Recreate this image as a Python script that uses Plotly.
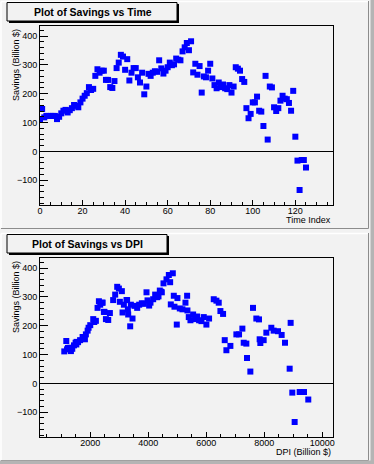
import plotly.graph_objects as go

W, H = 374, 464

time_index = list(range(126))
savings = [111, 147, 118, 123, 123, 123, 123, 123, 112, 120,
           132, 141, 144, 135, 143, 150, 161, 158, 153, 170,
           183, 193, 202, 223, 213, 217, 262, 285, 273, 280,
           280, 248, 248, 223, 220, 244, 289, 308, 335, 329,
           283, 320, 246, 273, 289, 289, 257, 239, 273, 198,
           225, 269, 262, 273, 278, 276, 316, 288, 270, 280,
           292, 308, 299, 302, 322, 318, 316, 347, 361, 376,
           351, 382, 274, 304, 266, 296, 204, 260, 257, 280,
           304, 253, 230, 219, 239, 223, 232, 219, 216, 230,
           204, 225, 292, 287, 280, 251, 241, 150, 115, 130,
           170, 170, 190, 141, 138, 88, 262, 41, 225, 222,
           153, 140, 150, 176, 193, 183, 181, 168, 141, 210,
           51, -32, -134, -30, -30, -56]
dpi = [1105, 1174, 1200, 1230, 1260, 1290, 1310, 1345, 1334, 1380,
       1440, 1495, 1530, 1520, 1580, 1650, 1736, 1760, 1816, 1850,
       1910, 1943, 2000, 2103, 2138, 2195, 2252, 2298, 2344, 2413,
       2425, 2470, 2490, 2540, 2620, 2677, 2790, 2860, 2929, 2987,
       3021, 3090, 3113, 3159, 3250, 3270, 3297, 3308, 3400, 3377,
       3457, 3526, 3618, 3687, 3779, 3847, 3939, 3974, 4031, 4077,
       4169, 4238, 4307, 4353, 4398, 4440, 4467, 4525, 4628, 4709,
       4754, 4846, 4777, 4880, 4903, 5006, 4983, 5087, 5178, 5282,
       5339, 5350, 5396, 5454, 5546, 5615, 5684, 5752, 5833, 5913,
       6004, 6096, 6257, 6349, 6429, 6487, 6579, 6636, 6693, 6831,
       7037, 7129, 7244, 7290, 7381, 7404, 7611, 7519, 7725, 7817,
       7840, 7863, 7978, 8070, 8242, 8323, 8472, 8598, 8713, 8908,
       8874, 8965, 9046, 9219, 9368, 9516]

titles = ["Plot of Savings vs Time", "Plot of Savings vs DPI"]
x_titles = ["Time Index", "DPI (Billion $)"]
y_title = "Savings (Billion $)"

FONT = "Liberation Sans, Arial, Helvetica, sans-serif"
BG = "#f2f2f2"
BLUE = "#0000ff"


def px(x):
    return x / W


def py(y):
    return 1 - y / H


fig = go.Figure()
marker = dict(symbol="square", size=6, color=BLUE, line=dict(width=0))
fig.add_trace(go.Scatter(x=time_index, y=savings, mode="markers", marker=marker,
                         xaxis="x", yaxis="y", showlegend=False))
fig.add_trace(go.Scatter(x=dpi, y=savings, mode="markers", marker=marker,
                         xaxis="x2", yaxis="y2", showlegend=False))

pads = [0, 232]
title_box_r = [177, 167]
frame_l, frame_r = 40, 333
frame_t, frame_b = 26, 205

common_ax = dict(showgrid=False, showline=True, mirror=True, linecolor="black",
                 linewidth=1, ticks="inside", tickcolor="black", automargin=False,
                 tickfont=dict(family=FONT, size=9, color="black"), fixedrange=True)

yax = dict(common_ax, range=[-186, 435], dtick=100, tick0=0, ticklen=8,
           zeroline=True, zerolinecolor="black", zerolinewidth=1,
           minor=dict(dtick=20, ticklen=4, ticks="inside", tickcolor="black"))

layout = dict(
    width=W, height=H, margin=dict(l=0, r=0, t=0, b=0, autoexpand=False),
    paper_bgcolor=BG, plot_bgcolor=BG, showlegend=False,
    xaxis=dict(common_ax, domain=[px(frame_l), px(frame_r)], range=[0, 137.7],
               dtick=20, tick0=0, ticklen=5.5, zeroline=False, anchor="y",
               ticklabelstandoff=-3,
               minor=dict(dtick=5, ticklen=3, ticks="inside", tickcolor="black")),
    yaxis=dict(yax, domain=[py(frame_b), py(frame_t)], anchor="x"),
    xaxis2=dict(common_ax, domain=[px(frame_l), px(frame_r)], range=[268, 10368],
                dtick=2000, tick0=0, ticklen=5.5, zeroline=False, anchor="y2",
                tickformat="d", ticklabelstandoff=-3,
                minor=dict(dtick=500, ticklen=3, ticks="inside", tickcolor="black")),
    yaxis2=dict(yax, domain=[py(frame_b + 232), py(frame_t + 232)], anchor="x2"),
)
fig.update_layout(**layout)

shapes = []
annotations = []
for i, oy in enumerate(pads):
    br = title_box_r[i]
    # pad bevel borders
    shapes.append(dict(type="line", xref="paper", yref="paper",
                       x0=px(1), x1=px(368), y0=py(oy + 1.5), y1=py(oy + 1.5),
                       line=dict(color="white", width=1.5)))
    shapes.append(dict(type="line", xref="paper", yref="paper",
                       x0=px(1), x1=px(1), y0=py(oy + 1.5), y1=py(oy + 228),
                       line=dict(color="white", width=1.5)))
    shapes.append(dict(type="line", xref="paper", yref="paper",
                       x0=px(368.5), x1=px(368.5), y0=py(oy + 1), y1=py(oy + 228.5),
                       line=dict(color="#8c8c8c", width=1)))
    shapes.append(dict(type="line", xref="paper", yref="paper",
                       x0=px(1), x1=px(368.5), y0=py(oy + 228.5), y1=py(oy + 228.5),
                       line=dict(color="#8c8c8c", width=1)))
    # title box shadow + box
    shapes.append(dict(type="rect", xref="paper", yref="paper",
                       x0=px(9), x1=px(br + 2), y0=py(oy + 23), y1=py(oy + 4),
                       fillcolor="black", line=dict(width=0)))
    shapes.append(dict(type="rect", xref="paper", yref="paper",
                       x0=px(7), x1=px(br), y0=py(oy + 21), y1=py(oy + 2.5),
                       fillcolor=BG, line=dict(color="black", width=1)))
    annotations.append(dict(text="<b>" + titles[i] + "</b>", xref="paper", yref="paper",
                            x=px((7 + br) / 2 + 0.5), y=py(oy + 12), xanchor="center",
                            yanchor="middle", showarrow=False,
                            font=dict(family=FONT, size=10.5, color="black")))
    annotations.append(dict(text=x_titles[i], xref="paper", yref="paper",
                            x=px(frame_r), y=py(oy + 220), xanchor="right", yanchor="middle",
                            showarrow=False, font=dict(family=FONT, size=9, color="black")))
    annotations.append(dict(text=y_title, xref="paper", yref="paper", textangle=-90,
                            x=px(16), y=py(oy + 27), xanchor="center", yanchor="top",
                            showarrow=False, font=dict(family=FONT, size=9, color="black")))

# outer canvas border bands
shapes.append(dict(type="rect", xref="paper", yref="paper",
                   x0=px(370.5), x1=px(374), y0=0, y1=1,
                   fillcolor="#b4b4b4", line=dict(width=0)))
shapes.append(dict(type="rect", xref="paper", yref="paper",
                   x0=0, x1=1, y0=py(464), y1=py(460.5),
                   fillcolor="#b4b4b4", line=dict(width=0)))

fig.update_layout(shapes=shapes, annotations=annotations)
fig.write_html("out.html", config={"displayModeBar": False},
               post_script="document.body.style.margin='0';document.body.style.padding='0';"
                           "document.body.style.overflow='hidden';")
